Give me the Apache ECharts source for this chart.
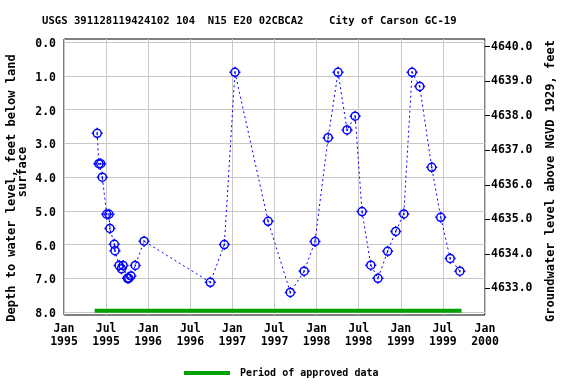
<!DOCTYPE html>
<html>
<head>
<meta charset="utf-8">
<script src="https://cdn.jsdelivr.net/npm/echarts@6/dist/echarts.min.js"></script>
<style>html,body{margin:0;padding:0;background:#fff}#c{width:576px;height:384px}</style>
</head>
<body>
<div id="c"></div>
<script>
// ---- data ----
const titleText = 'USGS 391128119424102 104  N15 E20 02CBCA2    City of Carson GC-19';
const measureDates = [
  '1995-05-25','1995-06-01','1995-06-09','1995-06-16','1995-07-05','1995-07-15','1995-07-19',
  '1995-08-07','1995-08-10','1995-08-28','1995-09-07','1995-09-14','1995-10-03','1995-10-09',
  '1995-10-18','1995-11-06','1995-12-14','1996-09-27','1996-11-27','1997-01-12','1997-06-05',
  '1997-09-09','1997-11-08','1997-12-25','1998-02-20','1998-04-04','1998-05-13','1998-06-17',
  '1998-07-17','1998-08-24','1998-09-24','1998-11-05','1998-12-10','1999-01-14','1999-02-19',
  '1999-03-24','1999-05-15','1999-06-23','1999-08-03','1999-09-14'
];
const depthValues = [
  2.70, 3.60, 3.60, 4.00, 5.10, 5.10, 5.52,
  5.99, 6.18, 6.62, 6.72, 6.62, 7.00, 7.00,
  6.93, 6.62, 5.90, 7.12, 6.00, 0.89, 5.31,
  7.42, 6.79, 5.91, 2.83, 0.89, 2.60, 2.19,
  5.02, 6.61, 7.00, 6.20, 5.61, 5.09, 0.89,
  1.31, 3.71, 5.19, 6.41, 6.79
];
const approvedPeriod = ['1995-05-14', '1999-09-21'];
const approvedLevel = 7.96;
const xTickYears = [1995, 2000];
const depthTicks = [0, 8];
const elevTicks = [4633, 4640];
const legendLabel = 'Period of approved data';
const leftTitle1 = 'Depth to water level, feet below land';
const leftTitle2 = 'surface';
const rightTitle = 'Groundwater level above NGVD 1929, feet';

// ---- helpers ----
function decYear(s) {
  const [y, m, d] = s.split('-').map(Number);
  const a = Date.UTC(y, 0, 1), b = Date.UTC(y + 1, 0, 1);
  return y + (Date.UTC(y, m - 1, d) - a) / (b - a);
}
const pts = measureDates.map((d, i) => [decYear(d), depthValues[i]]);
const approved = approvedPeriod.map(d => [decYear(d), approvedLevel]);

const FONT = 'DejaVu Sans Mono';
const GRID_L = 64, GRID_W = 421;
const pxPerUnit = 269.7 / 8;
const frameTop = 39, frameH = 276, depthTop = 42.3;
const yMin = -(depthTop - frameTop) / pxPerUnit;
const yMax = yMin + frameH / pxPerUnit;

const marker = 'path://M0,-4A4,4,0,1,1,0,4A4,4,0,1,1,0,-4ZM0,-4L0,-5.5M0,4L0,5.5M-4,0L-5.5,0M4,0L5.5,0M0,-1L0,1';

const lab = {fontFamily: FONT, fontWeight: 'bold', fontSize: 11.5, color: '#000'};
const noZero = {show: false, onZero: false};

const chart = echarts.init(document.getElementById('c'), null, {renderer: 'canvas'});
chart.setOption({
  animation: false,
  backgroundColor: '#fff',
  title: {
    text: titleText, left: 37, top: 11,
    textStyle: {fontFamily: FONT, fontWeight: 'bold', fontSize: 10.6, color: '#000'}
  },
  legend: {
    data: [legendLabel], left: 179, top: 363, icon: 'rect',
    itemWidth: 46, itemHeight: 4,
    textStyle: {fontFamily: FONT, fontWeight: 'bold', fontSize: 10, color: '#000', padding: [0, 0, 0, 5]}
  },
  grid: [
    {left: GRID_L, top: frameTop, width: GRID_W, height: frameH, show: true, borderColor: '#000', borderWidth: 1, backgroundColor: 'rgba(0,0,0,0)'},
    {left: GRID_L, top: depthTop, width: GRID_W, height: 269.7},
    {left: GRID_L, top: 46.7, width: GRID_W, height: 241.6}
  ],
  xAxis: [
    {
      gridIndex: 0, type: 'value', min: xTickYears[0], max: xTickYears[1], interval: 0.5,
      axisLine: noZero, axisTick: {show: false},
      splitLine: {show: true, lineStyle: {color: '#c8c8c8', width: 1}},
      axisLabel: Object.assign({}, lab, {
        margin: 8, lineHeight: 13,
        formatter: v => (Math.abs(v - Math.round(v)) < 1e-6 ? 'Jan\n' + Math.round(v) : 'Jul\n' + Math.floor(v))
      })
    },
    {gridIndex: 1, type: 'value', min: 0, max: 1, show: false, axisLine: noZero},
    {gridIndex: 2, type: 'value', min: 0, max: 1, show: false, axisLine: noZero}
  ],
  yAxis: [
    {gridIndex: 0, type: 'value', inverse: true, min: yMin, max: yMax, show: false, axisLine: noZero},
    {
      gridIndex: 1, type: 'value', inverse: true, min: depthTicks[0], max: depthTicks[1], interval: 1,
      position: 'left',
      axisLine: noZero, axisTick: {show: false},
      splitLine: {show: true, lineStyle: {color: '#c8c8c8', width: 1}},
      axisLabel: Object.assign({}, lab, {margin: 8, verticalAlign: 'top', lineHeight: 4, formatter: v => v.toFixed(1)})
    },
    {
      gridIndex: 2, type: 'value', min: elevTicks[0], max: elevTicks[1], interval: 1,
      position: 'right',
      axisLine: noZero,
      axisTick: {show: true, inside: false, length: 5, lineStyle: {color: '#000', width: 1}},
      splitLine: {show: false},
      axisLabel: Object.assign({}, lab, {margin: 6, formatter: v => v.toFixed(1)})
    }
  ],
  graphic: [
    {type: 'text', x: 12, y: 188, rotation: Math.PI / 2,
     style: {text: leftTitle1, font: 'bold 12px "DejaVu Sans Mono"', fill: '#000', align: 'center', verticalAlign: 'middle'}},
    {type: 'text', x: 23, y: 172, rotation: Math.PI / 2,
     style: {text: leftTitle2, font: 'bold 12px "DejaVu Sans Mono"', fill: '#000', align: 'center', verticalAlign: 'middle'}},
    {type: 'text', x: 551, y: 181, rotation: Math.PI / 2,
     style: {text: rightTitle, font: 'bold 12px "DejaVu Sans Mono"', fill: '#000', align: 'center', verticalAlign: 'middle'}}
  ],
  series: [
    {
      type: 'line', name: 'depth', xAxisIndex: 0, yAxisIndex: 0, data: pts,
      showAllSymbol: true, symbol: marker, symbolSize: 11,
      itemStyle: {color: 'rgba(0,0,0,0)', borderColor: '#0000ff', borderWidth: 1.5},
      lineStyle: {color: '#0000ff', width: 1, type: [2, 3]},
      z: 3
    },
    {
      type: 'line', name: legendLabel, xAxisIndex: 0, yAxisIndex: 0, data: approved,
      symbol: 'none', itemStyle: {color: '#00a000'},
      lineStyle: {color: '#00a000', width: 4}, z: 2
    }
  ]
});
</script>
</body>
</html>
